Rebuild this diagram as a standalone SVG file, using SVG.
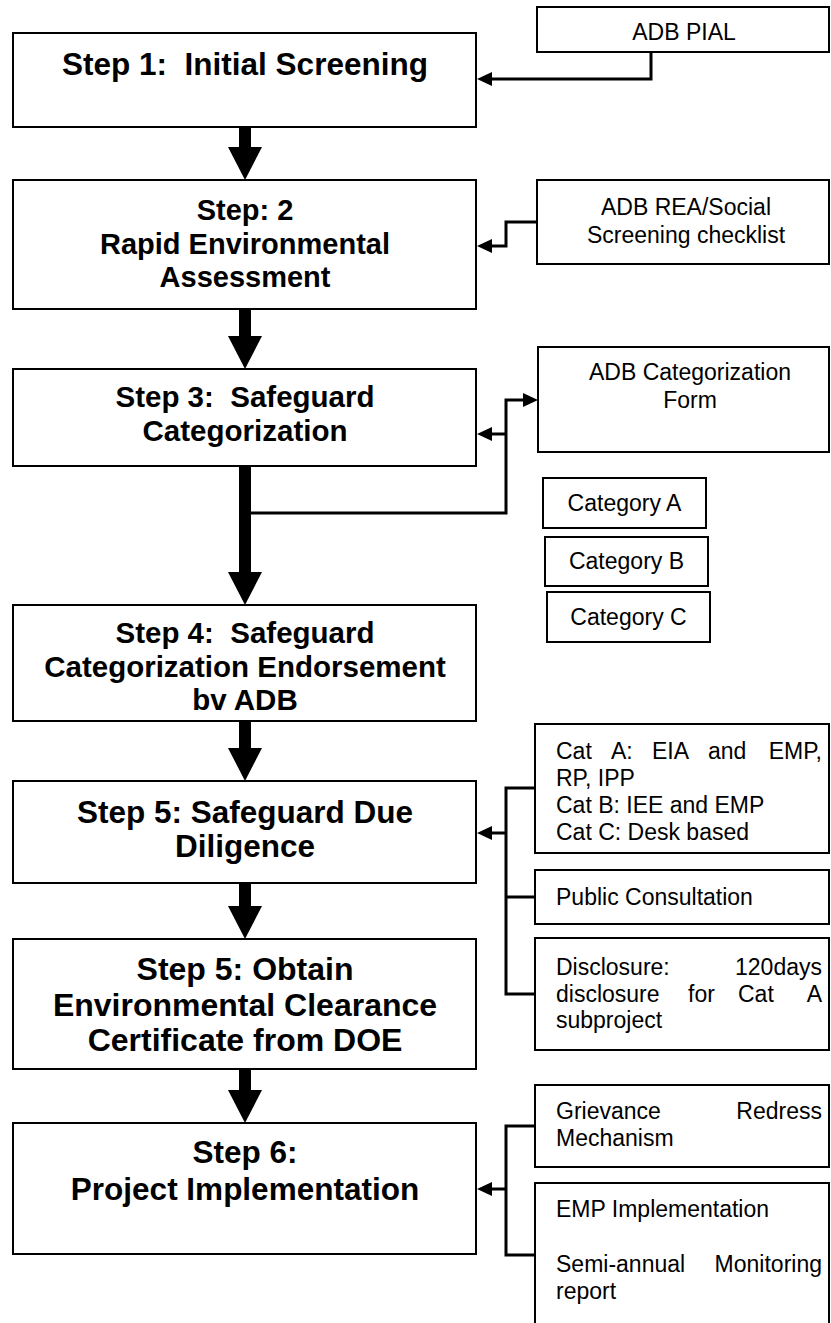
<svg xmlns="http://www.w3.org/2000/svg" width="831" height="1323" viewBox="0 0 831 1323">
<style>
.box{fill:#fff;stroke:#000;stroke-width:2}
.step{font-family:"Liberation Sans",Arial,sans-serif;font-weight:bold;fill:#000;text-anchor:middle}
.t{font-family:"Liberation Sans",Arial,sans-serif;font-size:23px;fill:#000}
.c{text-anchor:middle}
.e{text-anchor:end}
.ln{fill:none;stroke:#000;stroke-width:3}
.big{fill:none;stroke:#000;stroke-width:12}
</style>
<defs>
<marker id="sh" markerUnits="userSpaceOnUse" markerWidth="15" markerHeight="14" refX="0" refY="7" orient="auto" overflow="visible">
<path d="M0,0 L15,7 L0,14 z" fill="#000"/>
</marker>
<marker id="bh" markerUnits="userSpaceOnUse" markerWidth="33" markerHeight="34" refX="0" refY="17" orient="auto" overflow="visible">
<path d="M0,0 L33,17 L0,34 z" fill="#000"/>
</marker>
</defs>
<rect width="831" height="1323" fill="#fff"/>

<g id="connectors">
<line class="big" x1="245" y1="127" x2="245" y2="147" marker-end="url(#bh)"/>
<line class="big" x1="245" y1="309" x2="245" y2="336" marker-end="url(#bh)"/>
<line class="big" x1="245" y1="466" x2="245" y2="572" marker-end="url(#bh)"/>
<line class="big" x1="245" y1="721" x2="245" y2="748" marker-end="url(#bh)"/>
<line class="big" x1="245" y1="883" x2="245" y2="906" marker-end="url(#bh)"/>
<line class="big" x1="245" y1="1069" x2="245" y2="1090" marker-end="url(#bh)"/>
<path class="ln" d="M651,52 V79 H492" marker-end="url(#sh)"/>
<path class="ln" d="M537,222 H506 V246 H492" marker-end="url(#sh)"/>
<path class="ln" d="M251,513 H506 V400 H523" marker-end="url(#sh)"/>
<path class="ln" d="M506,434 H492" marker-end="url(#sh)"/>
<path class="ln" d="M535,788 H506 V994 H535 M506,897 H535"/>
<path class="ln" d="M506,833 H492" marker-end="url(#sh)"/>
<path class="ln" d="M535,1126 H506 V1255 H535"/>
<path class="ln" d="M506,1189 H492" marker-end="url(#sh)"/>
</g>

<g id="step1">
<rect class="box" x="13" y="33" width="463" height="94"/>
<text class="step" font-size="31.5" x="245" y="75" xml:space="preserve">Step 1:  Initial Screening</text>
</g>
<g id="adb-pial">
<rect class="box" x="537" y="7" width="292" height="45"/>
<text class="t c" x="684" y="40">ADB PIAL</text>
</g>

<g id="step2">
<rect class="box" x="13" y="180" width="463" height="129"/>
<text class="step" font-size="29" x="245" y="220">Step: 2</text>
<text class="step" font-size="29" x="245" y="253.5">Rapid Environmental</text>
<text class="step" font-size="29" x="245" y="287">Assessment</text>
</g>
<g id="adb-rea">
<rect class="box" x="537" y="180" width="292" height="84"/>
<text class="t c" x="686" y="215">ADB REA/Social</text>
<text class="t c" x="686" y="243">Screening checklist</text>
</g>

<g id="step3">
<rect class="box" x="13" y="369" width="463" height="97"/>
<text class="step" font-size="29.5" x="245" y="407" xml:space="preserve">Step 3:  Safeguard</text>
<text class="step" font-size="29.5" x="245" y="441">Categorization</text>
</g>
<g id="adb-cat-form">
<rect class="box" x="538" y="347" width="291" height="105"/>
<text class="t c" x="690" y="380">ADB Categorization</text>
<text class="t c" x="690" y="408">Form</text>
</g>
<g id="cat-a">
<rect class="box" x="543" y="478" width="163" height="50"/>
<text class="t c" x="624.5" y="511">Category A</text>
</g>
<g id="cat-b">
<rect class="box" x="545" y="537" width="163" height="49"/>
<text class="t c" x="626.5" y="569">Category B</text>
</g>
<g id="cat-c">
<rect class="box" x="547" y="592" width="163" height="50"/>
<text class="t c" x="628.5" y="625">Category C</text>
</g>

<g id="step4">
<rect class="box" x="13" y="605" width="463" height="116"/>
<text class="step" font-size="29.5" x="245" y="643" xml:space="preserve">Step 4:  Safeguard</text>
<text class="step" font-size="29.5" x="245" y="676.5">Categorization Endorsement</text>
<text class="step" font-size="29.5" x="245" y="710">bv ADB</text>
</g>

<g id="step5">
<rect class="box" x="13" y="781" width="463" height="102"/>
<text class="step" font-size="31.5" x="245" y="823">Step 5: Safeguard Due</text>
<text class="step" font-size="31.5" x="245" y="857">Diligence</text>
</g>
<g id="cat-docs">
<rect class="box" x="535" y="724" width="294" height="129"/>
<text class="t" x="556" y="759">Cat</text>
<text class="t" x="611" y="759">A:</text>
<text class="t" x="652" y="759">EIA</text>
<text class="t" x="708" y="759">and</text>
<text class="t e" x="822" y="759">EMP,</text>
<text class="t" x="556" y="786">RP, IPP</text>
<text class="t" x="556" y="813">Cat B: IEE and EMP</text>
<text class="t" x="556" y="840">Cat C: Desk based</text>
</g>
<g id="public-consultation">
<rect class="box" x="535" y="870" width="294" height="54"/>
<text class="t" x="556" y="905">Public Consultation</text>
</g>
<g id="disclosure">
<rect class="box" x="535" y="938" width="294" height="112"/>
<text class="t" x="556" y="975">Disclosure:</text>
<text class="t e" x="822" y="975">120days</text>
<text class="t" x="556" y="1001.5">disclosure</text>
<text class="t" x="688" y="1001.5">for</text>
<text class="t" x="738" y="1001.5">Cat</text>
<text class="t e" x="822" y="1001.5">A</text>
<text class="t" x="556" y="1028">subproject</text>
</g>

<g id="step5b">
<rect class="box" x="13" y="939" width="463" height="130"/>
<text class="step" font-size="32" x="245" y="980">Step 5: Obtain</text>
<text class="step" font-size="32" x="245" y="1015.5">Environmental Clearance</text>
<text class="step" font-size="32" x="245" y="1051">Certificate from DOE</text>
</g>

<g id="step6">
<rect class="box" x="13" y="1123" width="463" height="131"/>
<text class="step" font-size="31.5" x="245" y="1163">Step 6:</text>
<text class="step" font-size="31.5" x="245" y="1200">Project Implementation</text>
</g>
<g id="grievance">
<rect class="box" x="535" y="1085" width="294" height="82"/>
<text class="t" x="556" y="1119">Grievance</text>
<text class="t e" x="822" y="1119">Redress</text>
<text class="t" x="556" y="1146">Mechanism</text>
</g>
<g id="emp">
<rect class="box" x="535" y="1183" width="294" height="150"/>
<text class="t" x="556" y="1217">EMP Implementation</text>
<text class="t" x="556" y="1272">Semi-annual</text>
<text class="t e" x="822" y="1272">Monitoring</text>
<text class="t" x="556" y="1299">report</text>
</g>
</svg>
